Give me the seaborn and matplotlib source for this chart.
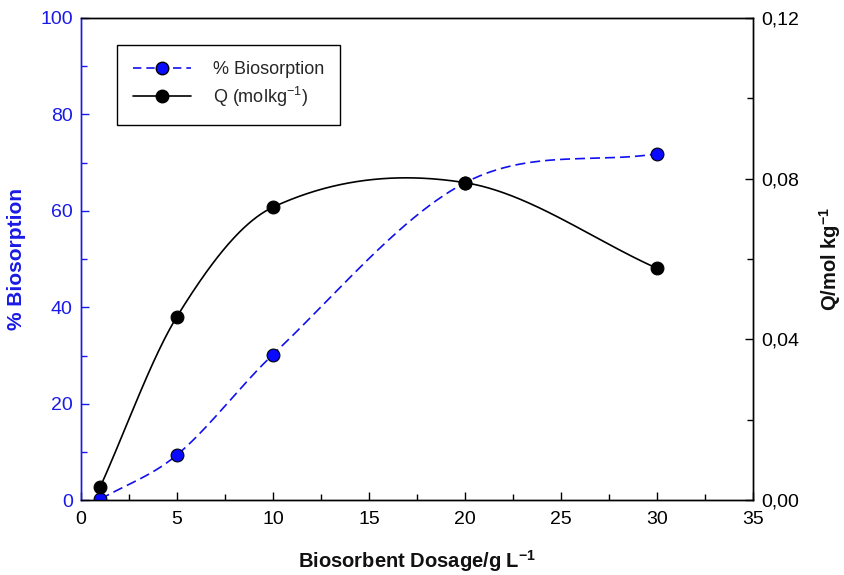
import numpy as np
import matplotlib
matplotlib.use("Agg")
import matplotlib.pyplot as plt
import seaborn as sns
from matplotlib.ticker import MultipleLocator, FuncFormatter
from matplotlib.lines import Line2D

dosage = [1, 5, 10, 20, 30]
biosorption = [0.2, 9.4, 30.2, 65.8, 71.8]
q_values = [0.0033, 0.0457, 0.0729, 0.0790, 0.0577]

sns.set_theme(style="white")
plt.rcParams['font.family'] = ['Liberation Sans', 'DejaVu Sans']


def smooth_curve(x, y, n=400):
    """Catmull-Rom style Hermite curve through the data points."""
    x = np.asarray(x, float)
    y = np.asarray(y, float)
    k = len(x)
    m = np.zeros(k)
    m[0] = (y[1] - y[0]) / (x[1] - x[0])
    m[-1] = (y[-1] - y[-2]) / (x[-1] - x[-2])
    for i in range(1, k - 1):
        m[i] = (y[i + 1] - y[i - 1]) / (x[i + 1] - x[i - 1])
    xs = np.linspace(x[0], x[-1], n)
    idx = np.clip(np.searchsorted(x, xs) - 1, 0, k - 2)
    h = x[idx + 1] - x[idx]
    t = (xs - x[idx]) / h
    h00 = 2 * t ** 3 - 3 * t ** 2 + 1
    h10 = t ** 3 - 2 * t ** 2 + t
    h01 = -2 * t ** 3 + 3 * t ** 2
    h11 = t ** 3 - t ** 2
    ys = h00 * y[idx] + h10 * h * m[idx] + h01 * y[idx + 1] + h11 * h * m[idx + 1]
    return xs, ys


fig = plt.figure(figsize=(8.44, 5.75), dpi=100)
ax = fig.add_axes([0.096, 0.130, 0.796, 0.839])
ax2 = ax.twinx()

xs, ys = smooth_curve(dosage, biosorption)
ax.plot(xs, ys, color="#1010ee", lw=1.2, ls=(0, (6, 3)), zorder=2)
sns.scatterplot(x=dosage, y=biosorption, ax=ax, color="#0a0aff", edgecolor="black",
                linewidth=0.8, s=85, zorder=3, legend=False)

xq, yq = smooth_curve(dosage, q_values)
ax2.plot(xq, yq, color="black", lw=1.2, zorder=2)
sns.scatterplot(x=dosage, y=q_values, ax=ax2, color="black", edgecolor="black",
                linewidth=0.8, s=85, zorder=3, legend=False)

ax.set_xlim(0, 35)
ax.set_ylim(0, 100)
ax2.set_ylim(0, 0.12)

ax.xaxis.set_major_locator(MultipleLocator(5))
ax.xaxis.set_minor_locator(MultipleLocator(2.5))
ax.yaxis.set_major_locator(MultipleLocator(20))
ax.yaxis.set_minor_locator(MultipleLocator(10))
ax2.yaxis.set_major_locator(MultipleLocator(0.04))
ax2.yaxis.set_minor_locator(MultipleLocator(0.02))
ax2.yaxis.set_major_formatter(FuncFormatter(lambda v, p: f"{v:.2f}".replace(".", ",")))

blue = "#1a1ae6"
ax.tick_params(axis="x", which="both", direction="in", bottom=True, top=False,
               labelsize=14, colors="black", pad=8)
ax.tick_params(axis="x", which="major", length=6, width=1)
ax.tick_params(axis="x", which="minor", length=4, width=1)
ax.tick_params(axis="y", which="both", direction="in", left=True, right=False,
               labelsize=14, colors=blue, pad=6)
ax.tick_params(axis="y", which="major", length=6, width=1)
ax.tick_params(axis="y", which="minor", length=4, width=1)
ax2.tick_params(axis="y", which="both", direction="in", right=True, left=False,
                labelsize=14, colors="black", pad=6)
ax2.tick_params(axis="y", which="major", length=6, width=1)
ax2.tick_params(axis="y", which="minor", length=4, width=1)

for a in (ax, ax2):
    for s in a.spines.values():
        s.set_color("black")
        s.set_linewidth(1.0)
ax.spines["left"].set_color(blue)
ax2.spines["left"].set_color(blue)

ax.set_xlabel("Biosorbent Dosage/g L$^{\\mathregular{-1}}$", fontsize=14.5, fontweight="bold",
              color="#111111", labelpad=14)
ax.set_ylabel("% Biosorption", fontsize=15, fontweight="bold", color=blue, labelpad=10)
ax2.set_ylabel("Q/mol kg$^{\\mathregular{-1}}$", fontsize=14.5, fontweight="bold",
               color="#111111", labelpad=13)

handles = [
    Line2D([], [], color="#1010ee", ls=(0, (5, 3)), lw=1.2, marker="o", markersize=9,
           markerfacecolor="#0a0aff", markeredgecolor="black"),
    Line2D([], [], color="black", lw=1.2, marker="o", markersize=9,
           markerfacecolor="black", markeredgecolor="black"),
]
leg = ax.legend(handles, ["% Biosorption", "Q (molkg$^{\\mathregular{-1}}$)"], loc="upper left",
                bbox_to_anchor=(0.0536, 0.944), borderaxespad=0, fontsize=13,
                frameon=True, fancybox=False, edgecolor="black", framealpha=1,
                handlelength=3.2, borderpad=0.9, labelspacing=0.35, handletextpad=1.2)
leg.get_frame().set_linewidth(1.0)
leg.set_zorder(5)

fig.savefig("out.png", dpi=100)
